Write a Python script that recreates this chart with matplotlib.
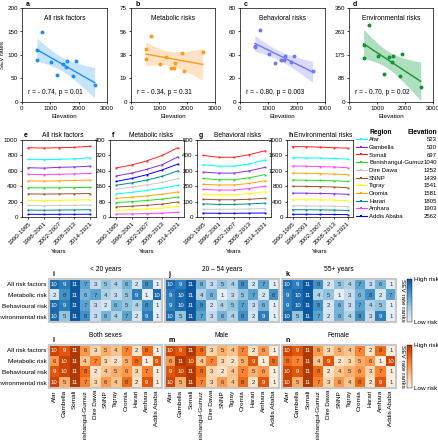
import numpy as np
import matplotlib
matplotlib.use("Agg")
import matplotlib.pyplot as plt
from matplotlib.colors import LinearSegmentedColormap
from matplotlib.lines import Line2D

plt.rcParams['font.family'] = ['Liberation Sans', 'DejaVu Sans']
plt.rcParams['font.size'] = 4.5
plt.rcParams['axes.linewidth'] = 0.5
plt.rcParams['xtick.major.width'] = 0.5
plt.rcParams['ytick.major.width'] = 0.5
plt.rcParams['xtick.major.size'] = 1.5
plt.rcParams['ytick.major.size'] = 1.5
plt.rcParams['xtick.major.pad'] = 1.5
plt.rcParams['ytick.major.pad'] = 1.5

# ---- data ----
regions = ["Afar", "Gambella", "Somali", "Benishangul-Gumuz", "Dire Dawa", "SNNP",
           "Tigray", "Oromia", "Harari", "Amhara", "Addis Ababa"]
elevation = [523, 530, 697, 1040, 1252, 1439, 1541, 1581, 1805, 1903, 2562]
region_colors = ["#00ffff", "#8a2be2", "#ff2020", "#22dd22", "#c8c8c8", "#a0522d",
                 "#ffff00", "#ffa500", "#008b8b", "#ff40ff", "#0000ff"]

# scatter panels (a-d): SEV rates by elevation
sev_all = [110, 90, 148, 86, 57, 80, 75, 87, 56, 87, 36]
sev_metabolic = [42, 34, 53, 30, 36, 27, 27, 31, 39, 25, 40]
sev_behavioral = [47, 48, 61, 41, 33, 36, 36, 39, 34, 39, 26]
sev_environmental = [213, 163, 288, 170, 105, 166, 150, 172, 95, 180, 55]

# line panels (e-h): SEV rates per period, one row per region
periods = ["1990-1995", "1996-2001", "2002-2007", "2008-2013", "2014-2021"]
trend_all = [
    [750, 745, 750, 755, 770],   # Afar
    [640, 635, 645, 650, 660],   # Gambella
    [900, 895, 900, 905, 920],   # Somali
    [380, 378, 380, 382, 385],   # Benishangul-Gumuz
    [150, 148, 150, 152, 155],   # Dire Dawa
    [300, 298, 300, 302, 305],   # SNNP
    [215, 213, 217, 220, 225],   # Tigray
    [470, 465, 470, 475, 480],   # Oromia
    [90, 88, 90, 92, 95],        # Harari
    [555, 550, 555, 560, 565],   # Amhara
    [35, 34, 35, 35, 36],        # Addis Ababa
]
trend_metabolic = [
    [120, 128, 138, 150, 165],
    [213, 228, 248, 272, 312],
    [255, 270, 292, 320, 360],
    [75, 80, 86, 93, 103],
    [145, 155, 167, 180, 200],
    [52, 56, 61, 67, 78],
    [35, 38, 42, 47, 55],
    [97, 103, 110, 118, 130],
    [165, 177, 192, 212, 240],
    [15, 16, 18, 20, 25],
    [185, 200, 220, 245, 275],
]
trend_behavioral = [
    [340, 330, 330, 345, 370],
    [292, 285, 285, 300, 322],
    [400, 388, 388, 405, 430],
    [250, 242, 242, 255, 275],
    [50, 50, 50, 52, 55],
    [115, 112, 112, 115, 122],
    [148, 145, 145, 152, 165],
    [212, 208, 208, 218, 235],
    [85, 82, 82, 85, 90],
    [180, 175, 175, 185, 200],
    [25, 24, 24, 25, 26],
]
trend_environmental = [
    [1540, 1535, 1530, 1520, 1505],
    [620, 618, 612, 605, 590],
    [1830, 1825, 1815, 1800, 1790],
    [960, 955, 950, 940, 925],
    [290, 288, 285, 280, 270],
    [800, 795, 790, 780, 760],
    [450, 448, 445, 438, 425],
    [1140, 1135, 1125, 1115, 1100],
    [190, 188, 185, 180, 170],
    [1325, 1320, 1310, 1300, 1280],
    [70, 70, 68, 66, 62],
]

# heatmaps (i-n): SEV rate ranks
risk_rows = ["All risk factors", "Metabolic risk", "Behavioural risk", "Environmental risk"]
rank_lt20 = [[10, 9, 11, 7, 3, 5, 4, 6, 2, 8, 1],
             [2, 8, 11, 6, 7, 4, 3, 5, 9, 1, 10],
             [10, 9, 11, 7, 3, 2, 6, 5, 4, 8, 1],
             [10, 5, 11, 8, 3, 6, 4, 7, 2, 9, 1]]
rank_20_54 = [[10, 9, 11, 6, 3, 5, 4, 8, 2, 7, 1],
              [9, 10, 11, 4, 6, 1, 3, 5, 7, 2, 8],
              [9, 10, 11, 8, 2, 4, 5, 7, 3, 6, 1],
              [10, 5, 11, 7, 3, 6, 4, 8, 2, 9, 1]]
rank_55p = [[10, 9, 11, 8, 2, 5, 4, 7, 3, 6, 1],
            [9, 10, 11, 4, 5, 1, 3, 6, 8, 2, 7],
            [9, 10, 11, 8, 2, 6, 3, 7, 4, 5, 1],
            [10, 5, 11, 7, 2, 6, 4, 8, 3, 9, 1]]
rank_both = [[10, 9, 11, 6, 3, 5, 4, 7, 2, 8, 1],
             [6, 10, 11, 4, 7, 3, 2, 5, 8, 1, 9],
             [9, 10, 11, 8, 2, 4, 5, 6, 3, 7, 1],
             [10, 5, 11, 7, 3, 6, 4, 8, 2, 9, 1]]
rank_male = [[10, 9, 11, 8, 3, 5, 4, 7, 2, 6, 1],
             [6, 11, 10, 4, 7, 3, 2, 5, 9, 1, 8],
             [9, 10, 11, 8, 3, 2, 4, 7, 5, 6, 1],
             [10, 5, 11, 7, 3, 6, 4, 8, 2, 9, 1]]
rank_female = [[10, 9, 11, 6, 3, 5, 4, 7, 2, 8, 1],
               [8, 7, 11, 4, 9, 2, 3, 5, 6, 1, 10],
               [10, 9, 11, 8, 2, 4, 5, 6, 3, 7, 1],
               [10, 5, 11, 7, 3, 6, 4, 8, 2, 9, 1]]

W, H = 438, 440


def px(l, t, r, b):
    return [l / W, 1 - b / H, (r - l) / W, (b - t) / H]


fig = plt.figure(figsize=(W / 100, H / 100), dpi=100)

# ---- row 1: scatter with regression ----
scatter_specs = [
    ("a", "All risk factors", sev_all, [0, 50, 100, 150, 200], ["0", "50", "100", "150", "200"],
     "#1e8ff0", "#bfe0fb", "r = - 0.74, p = 0.01", (22, 107)),
    ("b", "Metabolic risks", sev_metabolic, [0, 18.75, 37.5, 56.25, 75], ["0", "19", "38", "56", "75"],
     "#ff9a1a", "#fde0bd", "r = - 0.34, p = 0.31", (131, 215)),
    ("c", "Behavioral risks", sev_behavioral, [0, 20, 40, 60, 80], ["0", "20", "40", "60", "80"],
     "#6f78f2", "#d6d8fb", "r = - 0.80, p = 0.003", (240, 325)),
    ("d", "Environmental risks", sev_environmental, [0, 87.5, 175, 262.5, 350], ["0", "88", "175", "263", "350"],
     "#13922f", "#a5dcb8", "r = - 0.70, p = 0.02", (349, 433)),
]
x = np.array(elevation, dtype=float)
for letter, title, vals, yt, ytl, col, fill, rtxt, (l, r) in scatter_specs:
    ax = fig.add_axes(px(l, 8, r, 102))
    y = np.array(vals, dtype=float)
    slope, icpt = np.polyfit(x, y, 1)
    xs = np.linspace(x.min(), x.max(), 100)
    ys = slope * xs + icpt
    n = len(x)
    resid = y - (slope * x + icpt)
    s = np.sqrt(np.sum(resid ** 2) / (n - 2))
    se = s * np.sqrt(1 / n + (xs - x.mean()) ** 2 / np.sum((x - x.mean()) ** 2))
    ax.fill_between(xs, ys - 2.262 * se, ys + 2.262 * se, color=fill, lw=0, alpha=0.9)
    ax.plot(xs, ys, color=col, lw=1.0)
    ax.scatter(x, y, s=8, color=col, zorder=3, lw=0)
    ax.set_xlim(0, 3000)
    ax.set_ylim(yt[0], yt[-1])
    ax.set_xticks([0, 1000, 2000, 3000])
    ax.set_yticks(yt)
    ax.set_yticklabels(ytl)
    ax.set_xlabel("Elevation", labelpad=2)
    if letter == "a":
        ax.set_ylabel("SEV rates", labelpad=2)
    ax.text(0.5, 0.93, title, transform=ax.transAxes, ha="center", va="top", fontsize=4.8)
    ax.text(0.07, 0.1, rtxt, transform=ax.transAxes, ha="left", va="center", fontsize=4.8)
    ax.text(0.05, 1.0, letter, transform=ax.transAxes, ha="left", va="bottom", fontsize=5, fontweight="bold")

# ---- row 2: trend lines ----
line_specs = [
    ("e", "All risk factors", trend_all, 1000, 200, (22, 96)),
    ("f", "Metabolic risks", trend_metabolic, 400, 80, (110, 184)),
    ("g", "Behavioral risks", trend_behavioral, 500, 100, (197, 271)),
    ("h", "Environmental risks", trend_environmental, 2000, 400, (287, 353)),
]
for letter, title, rows, ymax, step, (l, r) in line_specs:
    ax = fig.add_axes(px(l, 140, r, 217))
    for k, row in enumerate(rows):
        ax.plot(range(len(periods)), row, color=region_colors[k], lw=0.7,
                marker="s", ms=1.3, mew=0)
    ax.set_ylim(0, ymax)
    ax.set_yticks(np.arange(0, ymax + 1, step))
    ax.set_xlim(-0.4, len(periods) - 0.6)
    ax.set_xticks(range(len(periods)))
    ax.set_xticklabels(periods, rotation=45, ha="right", rotation_mode="anchor")
    ax.set_xlabel("Years", labelpad=2)
    if letter == "e":
        ax.set_ylabel("SEV rates", labelpad=2)
    ax.text(0.03, 1.01, letter, transform=ax.transAxes, ha="left", va="bottom",
            fontsize=5, fontweight="bold")
    ax.text(0.55, 1.01, title, transform=ax.transAxes, ha="center", va="bottom", fontsize=4.8)

handles = [Line2D([], [], color=c, lw=0.8, marker="s", ms=1.5, mew=0) for c in region_colors]
leg = fig.legend(handles, regions, loc="upper left", bbox_to_anchor=(356 / W, 1 - 137 / H),
                 frameon=False, fontsize=4.3, handlelength=1.8, handletextpad=0.4,
                 labelspacing=0.42, borderpad=0, borderaxespad=0)
fig.text(370 / W, 1 - 133 / H, "Region", ha="left", va="center", fontsize=4.8, fontweight="bold")
fig.text(437 / W, 1 - 133 / H, "Elevation", ha="right", va="center", fontsize=4.8, fontweight="bold")
fig.canvas.draw()
renderer = fig.canvas.get_renderer()
for txt, e in zip(leg.get_texts(), elevation):
    bb = txt.get_window_extent(renderer)
    yc = (bb.y0 + bb.y1) / 2 / fig.bbox.height
    fig.text(437 / W, yc, str(e), ha="right", va="center", fontsize=4.3)

# ---- rows 3-4: rank heatmaps ----
blues = LinearSegmentedColormap.from_list("b", plt.cm.Blues(np.linspace(0.1, 0.85, 256)))
oranges = LinearSegmentedColormap.from_list("o", plt.cm.Oranges(np.linspace(0.06, 0.85, 256)))

heat_specs = [
    ("i", "< 20 years", rank_lt20, blues, (49, 162), (279, 322), False),
    ("j", "20 – 54 years", rank_20_54, blues, (165, 279), (279, 322), False),
    ("k", "55+ years", rank_55p, blues, (282, 396), (279, 322), False),
    ("l", "Both sexes", rank_both, oranges, (49, 162), (345, 388), True),
    ("m", "Male", rank_male, oranges, (165, 279), (345, 388), True),
    ("n", "Female", rank_female, oranges, (282, 396), (345, 388), True),
]
for letter, title, ranks, cmap, (l, r), (t, b), show_x in heat_specs:
    ax = fig.add_axes(px(l, t, r, b))
    data = np.array(ranks)
    im = ax.imshow(data, cmap=cmap, vmin=1, vmax=11, aspect="auto")
    for i in range(data.shape[0]):
        for j in range(data.shape[1]):
            v = data[i, j]
            ax.text(j, i, str(v), ha="center", va="center", fontsize=4.3,
                    color="white" if v >= 9 else "#333333")
    for sp in ax.spines.values():
        sp.set_color("#c8c8c8")
        sp.set_linewidth(1.5)
    ax.tick_params(length=0)
    if letter in ("i", "l"):
        ax.set_yticks(range(len(risk_rows)))
        ax.set_yticklabels(risk_rows, fontsize=4.6)
    else:
        ax.set_yticks([])
    if show_x:
        ax.set_xticks(range(len(regions)))
        ax.set_xticklabels(regions, rotation=90, fontsize=4.6)
    else:
        ax.set_xticks([])
    ax.set_title(title, fontsize=4.8, pad=6)
    ax.text(0.03, 1.02, letter, transform=ax.transAxes, ha="left", va="bottom",
            fontsize=5, fontweight="bold")
    if letter in ("k", "n"):
        cax = fig.add_axes(px(407, t, 412, b))
        cb = fig.colorbar(im, cax=cax, ticks=[1, 11])
        cb.set_ticklabels(["Low risk", "High risk"])
        cb.outline.set_linewidth(0.3)
        cb.ax.tick_params(length=0, labelsize=4.6, pad=1.5)
        cb.ax.yaxis.set_label_position("left")
        cb.set_label("SEV rate ranks", rotation=270, fontsize=4.6, labelpad=5)

fig.savefig("out.png", dpi=100)
